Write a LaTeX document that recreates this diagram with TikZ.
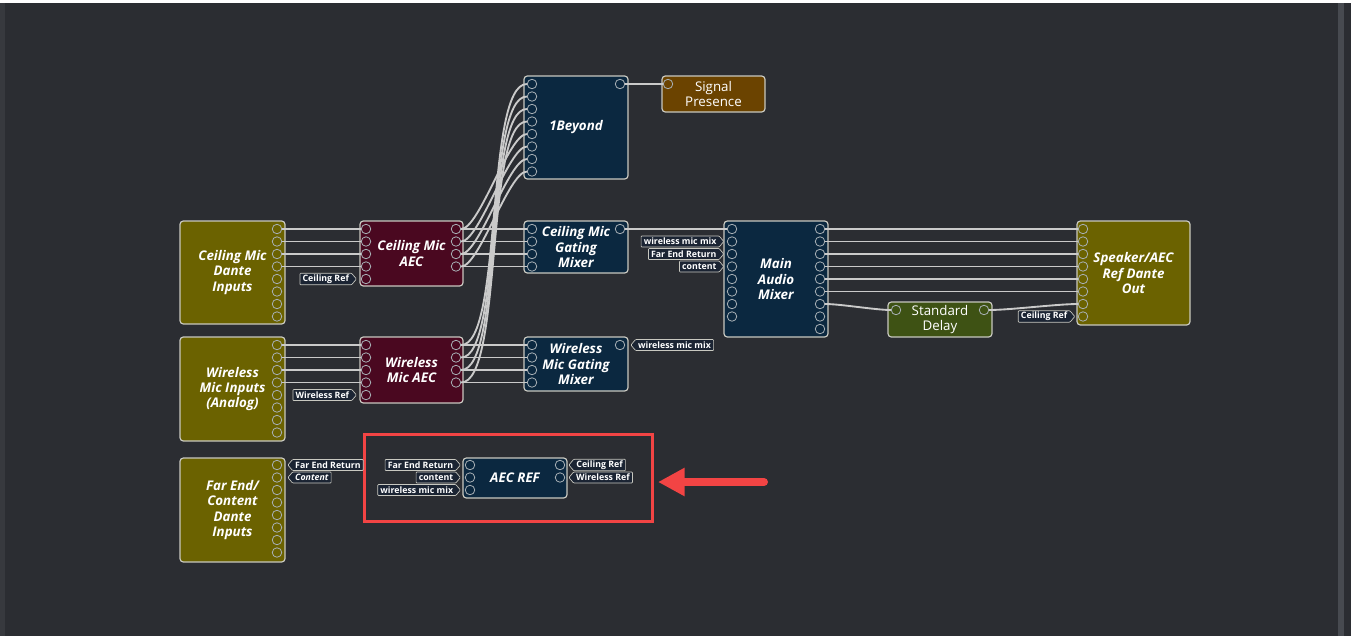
\documentclass[tikz,border=0pt]{standalone}
\usepackage{fontspec}
\setmainfont{Open Sans}
\usepackage{xcolor}
\definecolor{bgdark}{HTML}{2B2D32}
\definecolor{leftstrip}{HTML}{37393E}
\definecolor{scrollbar}{HTML}{474A50}
\definecolor{olivebox}{HTML}{6B6200}
\definecolor{maroonbox}{HTML}{4A0820}
\definecolor{navybox}{HTML}{0B2840}
\definecolor{brownbox}{HTML}{6B4300}
\definecolor{greenbox}{HTML}{3E5214}
\definecolor{edgegray}{HTML}{C8C8C0}
\definecolor{wiregray}{HTML}{CACACA}
\definecolor{tagfill}{HTML}{1B2433}
\definecolor{portgray}{HTML}{A8B0B6}
\definecolor{hilitered}{HTML}{F24444}
\usepackage{tikz}
\usetikzlibrary{arrows.meta,positioning,shapes.symbols}
\newcommand{\px}{0.75pt}

\begin{document}
\begin{tikzpicture}[x=0.75pt, y=-0.75pt,
  blk/.style={draw=edgegray, line width=0.9pt, rounded corners=2.5pt, inner sep=0pt,
    align=center, text=white, font=\fontsize{10}{11.5}\selectfont\bfseries\itshape},
  port/.style={circle, draw=portgray, line width=0.6pt, minimum size=9.5*\px, inner sep=0pt},
  wire/.style={draw=wiregray, line width=1.4pt},
  tagbase/.style={signal, draw=edgegray, fill=tagfill, line width=0.5pt, text=white,
    font=\fontsize{6.6}{7}\selectfont\bfseries, inner sep=1pt, inner xsep=2pt,
    minimum height=11*\px, signal pointer angle=100, rounded corners=0.6pt},
  tagin/.style={tagbase, signal to=east},
  tagout/.style={tagbase, signal to=west}]

  % screen
  \fill[bgdark] (0,0) rectangle (1351,636);
  \fill[white] (0,0) rectangle (1351,3);
  \fill[leftstrip] (0,3) rectangle (5,636);
  \fill[scrollbar] (1338,3) rectangle (1344,636);

  % blocks
  \node[blk, fill=olivebox, minimum width=105*\px, minimum height=103*\px] (cmdi) at (232.5,272.5) {Ceiling Mic\\Dante\\Inputs};
  \node[blk, fill=maroonbox, minimum width=103*\px, minimum height=65*\px] (caec) at (411.5,253.5) {Ceiling Mic\\AEC};
  \node[blk, fill=olivebox, minimum width=105*\px, minimum height=104*\px] (wmi) at (232.5,389) {Wireless\\Mic Inputs\\(Analog)};
  \node[blk, fill=maroonbox, minimum width=103*\px, minimum height=66*\px] (waec) at (411.5,370) {Wireless\\Mic AEC};
  \node[blk, fill=olivebox, minimum width=105*\px, minimum height=104*\px] (fedi) at (232.5,510) {Far End/\\Content\\Dante\\Inputs};
  \node[blk, fill=navybox, minimum width=104*\px, minimum height=40*\px] (aecref) at (515,478) {AEC REF};
  \node[blk, fill=navybox, minimum width=104*\px, minimum height=103*\px] (beyond) at (576,127.5) {1Beyond};
  \node[blk, fill=brownbox, minimum width=103*\px, minimum height=36*\px, font=\fontsize{10}{11.5}\selectfont] (sigpres) at (713.5,94) {Signal\\Presence};
  \node[blk, fill=navybox, minimum width=104*\px, minimum height=52*\px] (cgm) at (576,247) {Ceiling Mic\\Gating\\Mixer};
  \node[blk, fill=navybox, minimum width=104*\px, minimum height=54*\px] (wgm) at (576,364) {Wireless\\Mic Gating\\Mixer};
  \node[blk, fill=navybox, minimum width=104*\px, minimum height=116*\px] (mam) at (776,279) {Main\\Audio\\Mixer};
  \node[blk, fill=greenbox, minimum width=104*\px, minimum height=35*\px, font=\fontsize{10}{11.5}\selectfont] (sdelay) at (940,319.5) {Standard\\Delay};
  \node[blk, fill=olivebox, minimum width=113*\px, minimum height=104*\px] (spkout) at (1133.5,273) {Speaker/AEC\\Ref Dante\\Out};
  \node[draw=hilitered, line width=2.25pt, minimum width=288*\px, minimum height=87*\px] (hilite) at (508,477.5) {};

  % ports
  \foreach \i in {1,...,8} {
    \node[port] (cmdo\i) at (277,{229+12.5*(\i-1)}) {};
    \node[port] (wmio\i) at (277,{345+12.5*(\i-1)}) {};
    \node[port] (fedo\i) at (277,{465+12.5*(\i-1)}) {};
    \node[port] (byi\i) at (532,{84+12.5*(\i-1)}) {};
    \node[port] (mami\i) at (732,{229+12.5*(\i-1)}) {};
    \node[port] (spki\i) at (1083,{229+12.5*(\i-1)}) {};
  }
  \foreach \i in {1,...,9}
    \node[port] (mamo\i) at (820,{229+12.5*(\i-1)}) {};
  \foreach \i in {1,...,5} {
    \node[port] (caeci\i) at (366,{229+12.5*(\i-1)}) {};
    \node[port] (waeci\i) at (366,{345+12.5*(\i-1)}) {};
  }
  \foreach \i in {1,...,4} {
    \node[port] (caeco\i) at (456,{229+12.5*(\i-1)}) {};
    \node[port] (waeco\i) at (456,{345+12.5*(\i-1)}) {};
    \node[port] (cgmi\i) at (532,{229+12.5*(\i-1)}) {};
    \node[port] (wgmi\i) at (532,{345+12.5*(\i-1)}) {};
  }
  \foreach \i in {1,...,3}
    \node[port] (arefi\i) at (470,{465+12.5*(\i-1)}) {};
  \foreach \i in {1,2}
    \node[port] (arefo\i) at (560,{465+12.5*(\i-1)}) {};
  \node[port] (byo) at (620,84) {};
  \node[port] (spi) at (668,84) {};
  \node[port] (cgmo) at (620,229) {};
  \node[port] (wgmo) at (620,345) {};
  \node[port] (sdi) at (896,310) {};
  \node[port] (sdo) at (984,310) {};

  % wires
  \foreach \i in {1,...,4} {
    \draw[wire] (cmdo\i) -- (caeci\i);
    \draw[wire] (wmio\i) -- (waeci\i);
    \draw[wire] (caeco\i) -- (cgmi\i);
    \draw[wire] (waeco\i) -- (wgmi\i);
    \pgfmathtruncatemacro{\j}{\i+4}
    \draw[wire] (caeco\i) to[out=0,in=180,looseness=0.4] (byi\j);
    \draw[wire] (waeco\i) to[out=0,in=180,looseness=0.4] (byi\i);
  }
  \foreach \i in {1,...,6}
    \draw[wire] (mamo\i) -- (spki\i);
  \draw[wire] (byo) -- (spi);
  \draw[wire] (cgmo) -- (mami1);
  \draw[wire] (mamo7) to[out=0,in=180,looseness=0.6] (sdi);
  \draw[wire] (sdo) to[out=0,in=180,looseness=0.6] (spki7);

  % tags
  \node[tagin, left=3pt of caeci5] (crefin) {Ceiling Ref};
  \node[tagin, left=3pt of waeci5] (wrefin) {Wireless Ref};
  \node[tagout, right=4pt of fedo1] (ferout) {Far End Return};
  \node[tagout, right=4pt of fedo2] (contout) {\itshape Content};
  \node[tagin, left=3pt of arefi1] (ferin) {Far End Return};
  \node[tagin, left=3pt of arefi2] (contin) {content};
  \node[tagin, left=3pt of arefi3] (wmmin) {wireless mic mix};
  \node[tagout, right=2.5pt of arefo1] (crefout) {Ceiling Ref};
  \node[tagout, right=2.5pt of arefo2] (wrefout) {Wireless Ref};
  \node[tagin, left=2pt of mami2] (mwmm) {wireless mic mix};
  \node[tagin, left=2pt of mami3] (mfer) {Far End Return};
  \node[tagin, left=2pt of mami4] (mcont) {content};
  \node[tagout, right=4pt of wgmo] (wmmout) {wireless mic mix};
  \node[tagin, left=2pt of spki8] (sref) {Ceiling Ref};

  % pointer
  \coordinate (arrowtail) at (764,482);
  \coordinate (arrowtip) at (658,482);
  \draw[draw=hilitered, line width=6pt, line cap=round,
    -{Triangle[length=20pt,width=20pt]}] (arrowtail) -- (arrowtip);
\end{tikzpicture}
\end{document}
